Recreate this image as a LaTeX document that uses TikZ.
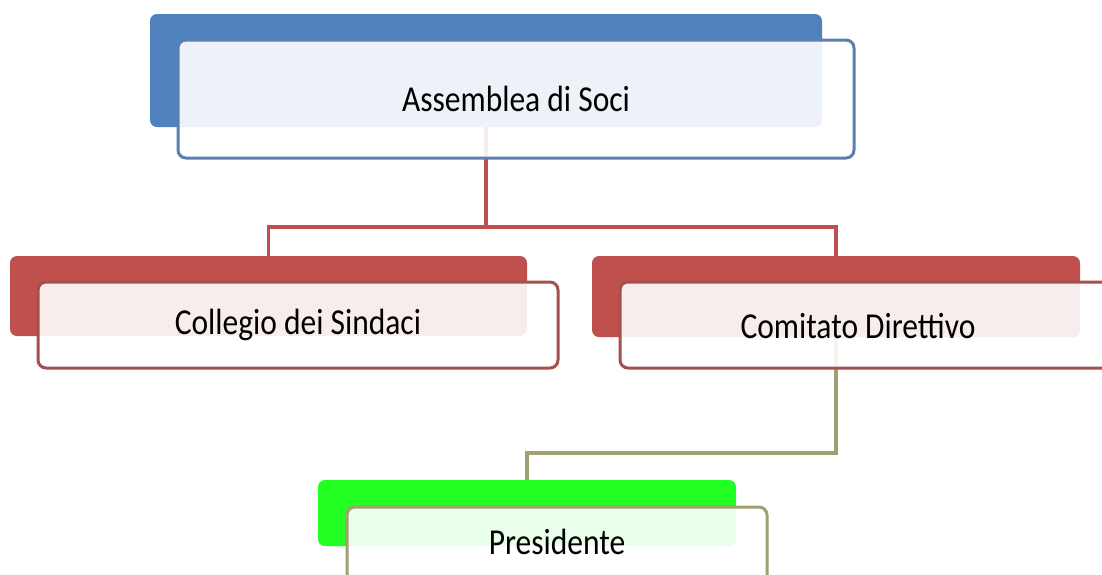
\documentclass[tikz,border=0pt]{standalone}
\usepackage{graphicx}
\usepackage{fontspec}
\setmainfont{Carlito}
\definecolor{bback}{HTML}{4F81BD}
\definecolor{bline}{HTML}{5B80B0}
\definecolor{rback}{HTML}{C0504D}
\definecolor{rline}{HTML}{A5504F}
\definecolor{gback}{HTML}{22FF22}
\definecolor{gline}{HTML}{A0A070}
\newcommand\stretchtxt[2]{\raisebox{#1}{\scalebox{1}[1.16]{#2}}}
\begin{document}
\begin{tikzpicture}[x=1pt,y=-1pt,
  back/.style={rounded corners=7pt, inner sep=0pt, anchor=north west, outer sep=0pt},
  front/.style={rounded corners=8pt, inner sep=0pt, anchor=north west, outer sep=0pt,
    fill=white, fill opacity=0.9, text opacity=1, line width=3pt,
    font=\fontsize{31.5}{36}\selectfont},
  rconn/.style={draw=rback, line width=3.2pt},
  gconn/.style={draw=gline, line width=3.2pt}]
\useasboundingbox (0,0) rectangle (1102,574);
\clip (0,0) rectangle (1102,574);
\fill[white] (0,0) rectangle (1102,574);
% back rectangles
\node[back, fill=bback, minimum width=672pt, minimum height=113pt] (ab) at (150,14) {};
\node[back, fill=rback, minimum width=517pt, minimum height=80pt] (cb) at (10,256) {};
\node[back, fill=rback, minimum width=488pt, minimum height=81pt] (db) at (592,256) {};
\node[back, fill=gback, minimum width=418pt, minimum height=66pt] (pb) at (318,480) {};
% connectors
\coordinate (j1) at (486,227);
\draw[rconn] (ab.south) -- (j1) -| (cb.north);
\draw[rconn] (j1) -| (db.north);
\coordinate (j2) at (836,453);
\draw[gconn] (db.south) -- (j2) -| (pb.north);
% front boxes
\node[front, draw=bline, minimum width=676pt, minimum height=118pt] (a) at (178,40) {\stretchtxt{-4pt}{Assemblea di Soci}};
\node[front, draw=rline, minimum width=520pt, minimum height=86pt] (c) at (38,282) {\stretchtxt{-3pt}{Collegio dei Sindaci}};
\node[front, draw=rline, minimum width=520pt, minimum height=86pt] (d) at (620,282) {};
\node[font=\fontsize{31.5}{36}\selectfont, inner sep=0pt] (dt) at (858,326) {\scalebox{1}[1.16]{Comitato Direttivo}};
\node[front, draw=gline, minimum width=420pt, minimum height=80pt] (p) at (347,507) {\stretchtxt{10pt}{Presidente}};
\end{tikzpicture}
\end{document}
